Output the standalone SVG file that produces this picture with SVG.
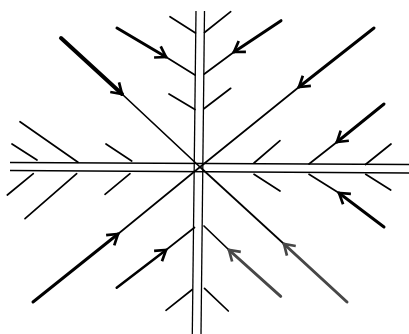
<svg xmlns="http://www.w3.org/2000/svg" width="409" height="334" viewBox="0 0 409 334">
<style>
.thin{stroke:#000;stroke-width:1.7;fill:none;stroke-linecap:round}
.axis{stroke:#000;stroke-width:1.3;fill:none}
.thick{stroke:#000;stroke-width:3;fill:none;stroke-linecap:round}
.heavy{stroke:#000;stroke-width:4;fill:none;stroke-linecap:round}
.gray{stroke:#474747;stroke-width:3;fill:none;stroke-linecap:round}
</style>
<defs>
<marker id="ah" viewBox="-13 -8 15 16" refX="0" refY="0" markerWidth="15" markerHeight="16" markerUnits="userSpaceOnUse" orient="auto">
<path d="M-10,-6.5 L0,0 L-10,6.5" fill="none" stroke="#000" stroke-width="2.7" stroke-linejoin="miter"/>
</marker>
<marker id="ahg" viewBox="-13 -8 15 16" refX="0" refY="0" markerWidth="15" markerHeight="16" markerUnits="userSpaceOnUse" orient="auto">
<path d="M-10,-6.5 L0,0 L-10,6.5" fill="none" stroke="#474747" stroke-width="2.7" stroke-linejoin="miter"/>
</marker>
</defs>
<rect width="409" height="334" fill="#fff"/>
<g id="axes">
<line class="axis" x1="10" y1="162.5" x2="409" y2="164.5"/>
<line class="axis" x1="10" y1="170.5" x2="409" y2="173"/>
<line class="axis" x1="196" y1="11" x2="192.3" y2="334"/>
<line class="axis" x1="204.5" y1="11" x2="201" y2="334"/>
</g>
<g id="connectors">
<!-- main diagonals -->
<line class="heavy" x1="61" y1="38" x2="122" y2="94" marker-end="url(#ah)"/>
<line class="thin" x1="122" y1="94" x2="200" y2="167"/>
<line class="thin" x1="200" y1="167" x2="284" y2="244"/>
<line class="gray" x1="347" y1="302" x2="284" y2="244" marker-end="url(#ahg)"/>
<line class="thick" x1="374" y1="28" x2="299" y2="87" marker-end="url(#ah)"/>
<line class="thin" x1="299" y1="87" x2="200" y2="167"/>
<line class="thin" x1="200" y1="167" x2="118" y2="234"/>
<line class="thick" x1="33" y1="302" x2="118" y2="234" marker-end="url(#ah)"/>
<!-- top branches -->
<line class="thin" x1="170" y1="16.7" x2="195.5" y2="33"/>
<line class="thick" x1="117" y1="28" x2="166" y2="57" marker-end="url(#ah)"/>
<line class="thin" x1="166" y1="57" x2="195" y2="75"/>
<line class="thin" x1="169" y1="94" x2="195" y2="109.5"/>
<line class="thin" x1="230.7" y1="11.7" x2="204.5" y2="32.5"/>
<line class="thick" x1="281" y1="20.7" x2="234" y2="52" marker-end="url(#ah)"/>
<line class="thin" x1="234" y1="52" x2="204.3" y2="74"/>
<line class="thin" x1="230.7" y1="88.3" x2="204.2" y2="108.5"/>
<!-- left branches -->
<line class="thin" x1="12" y1="144" x2="37" y2="160"/>
<line class="thin" x1="20" y1="121.7" x2="78" y2="162.3"/>
<line class="thin" x1="106" y1="144" x2="131.7" y2="161"/>
<line class="thin" x1="7.3" y1="195" x2="33.3" y2="173.7"/>
<line class="thin" x1="25" y1="218.7" x2="76.7" y2="173.7"/>
<line class="thin" x1="105" y1="194.3" x2="130" y2="173.7"/>
<!-- right branches -->
<line class="thin" x1="280" y1="140.7" x2="254" y2="163"/>
<line class="thick" x1="384" y1="104" x2="337" y2="142" marker-end="url(#ah)"/>
<line class="thin" x1="337" y1="142" x2="309" y2="164"/>
<line class="thin" x1="391" y1="144" x2="365.5" y2="164.5"/>
<line class="thin" x1="254" y1="174.3" x2="280" y2="191"/>
<line class="thin" x1="309" y1="174.3" x2="339" y2="193"/>
<line class="thick" x1="384" y1="227" x2="339" y2="193" marker-end="url(#ah)"/>
<line class="thin" x1="365.7" y1="174.3" x2="390.7" y2="190"/>
<!-- bottom branches -->
<line class="thick" x1="116.7" y1="287.7" x2="166" y2="250" marker-end="url(#ah)" style="stroke-width:2.5"/>
<line class="thin" x1="166" y1="250" x2="194.5" y2="227.5"/>
<line class="thin" x1="166" y1="310.3" x2="192.3" y2="289.5"/>
<line class="thin" x1="204" y1="226" x2="229" y2="250"/>
<line class="gray" x1="280.7" y1="296.3" x2="229" y2="250" marker-end="url(#ahg)"/>
<line class="thin" x1="204.5" y1="288.3" x2="228.3" y2="311"/>
</g>
</svg>
